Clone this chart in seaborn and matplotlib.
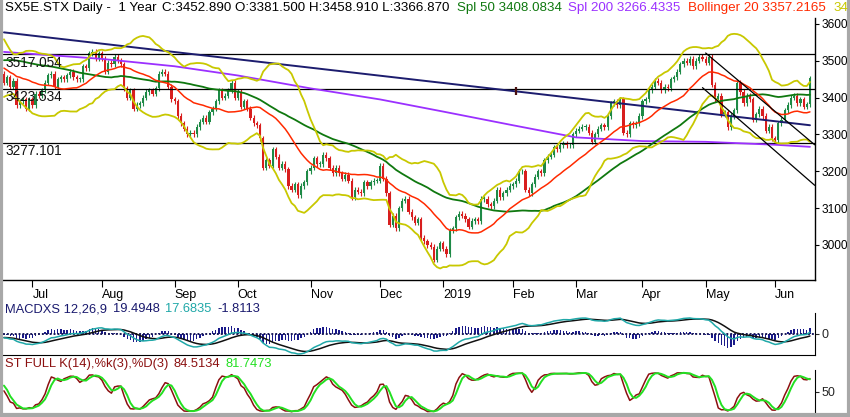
import numpy as np
import pandas as pd
import matplotlib
matplotlib.use("Agg")
import matplotlib.pyplot as plt
from matplotlib.lines import Line2D
import seaborn as sns

sns.set_style("white")
plt.rcParams['font.family'] = ['Liberation Sans', 'DejaVu Sans']

# closes before the visible window (needed to warm up the indicators)
pre_close = [3420,
             3430, 3445, 3425, 3440, 3450, 3445, 3470, 3480, 3485, 3485,
             3480, 3490, 3475, 3500, 3510, 3520, 3520, 3525, 3540, 3545,
             3550, 3545, 3555, 3565, 3565, 3555, 3560, 3590, 3575, 3595,
             3590, 3565, 3555, 3530, 3515, 3430, 3470, 3410, 3455, 3470,
             3460, 3475, 3455, 3450, 3475, 3480, 3480, 3520, 3500, 3465]

# daily closes, 19 Jun 2018 - 18 Jun 2019
close = [
    # Jun
    3440, 3455, 3430, 3445, 3380, 3390, 3395, 3370, 3395,
    # Jul
    3380, 3410, 3405, 3420, 3440, 3460, 3465, 3430, 3450, 3455,
    3450, 3460, 3470, 3455, 3450, 3450, 3485, 3480, 3520, 3525, 3505, 3520,
    # Aug
    3505, 3470, 3495, 3490, 3510, 3500, 3490, 3425, 3400, 3420, 3370, 3380,
    3385, 3400, 3415, 3420, 3410, 3425, 3465, 3470, 3465, 3430, 3395,
    # Sep
    3390, 3350, 3330, 3315, 3300, 3305, 3300, 3320, 3335, 3345,
    3335, 3360, 3370, 3390, 3420, 3400, 3405, 3420, 3440, 3400,
    # Oct
    3415, 3375, 3390, 3370, 3345, 3330, 3325, 3290, 3210, 3230, 3215, 3260,
    3240, 3210, 3220, 3205, 3160, 3150, 3165, 3135, 3160, 3170, 3200,
    # Nov
    3210, 3235, 3220, 3220, 3245, 3235, 3210, 3195, 3210, 3195, 3180,
    3190, 3175, 3130, 3150, 3145, 3140, 3170, 3160, 3170, 3175, 3175,
    # Dec
    3215, 3180, 3140, 3055, 3080, 3045, 3100, 3120, 3125, 3090,
    3075, 3060, 3070, 3020, 3010, 3000, 2995, 2960, 2990, 3005,
    # Jan
    2990, 2975, 3040, 3045, 3075, 3085, 3080, 3070, 3050, 3065, 3070,
    3065, 3125, 3125, 3110, 3105, 3120, 3150, 3130, 3140, 3150, 3160,
    # Feb
    3165, 3175, 3200, 3200, 3150, 3140, 3165, 3185, 3200, 3195,
    3230, 3240, 3245, 3265, 3260, 3270, 3275, 3270, 3270, 3300,
    # Mar
    3310, 3315, 3320, 3320, 3305, 3280, 3300, 3315, 3325, 3320, 3350,
    3385, 3390, 3380, 3395, 3305, 3300, 3330, 3325, 3330, 3350,
    # Apr
    3390, 3395, 3420, 3430, 3445, 3440, 3420, 3430, 3425, 3450,
    3455, 3470, 3490, 3500, 3495, 3505, 3485, 3500, 3510, 3505,
    # May
    3495, 3510, 3435, 3395, 3405, 3355, 3360, 3320, 3350, 3365, 3440,
    3415, 3385, 3405, 3395, 3340, 3355, 3370, 3350, 3310, 3320, 3290,
    # Jun
    3285, 3330, 3340, 3365, 3380, 3400, 3405, 3385, 3395, 3375, 3381.5, 3452.89,
]

holidays = ['2018-12-25', '2019-01-01', '2019-04-19', '2019-04-22', '2019-05-01']

ma200_dates = ['2018-06-19', '2018-08-01', '2018-09-03', '2018-10-01', '2018-11-01',
               '2018-12-03', '2019-01-02', '2019-02-01', '2019-03-01', '2019-04-01',
               '2019-05-02', '2019-06-03', '2019-06-18']
ma200_vals = [3524, 3505, 3485, 3460, 3425, 3395, 3362, 3325, 3292, 3282, 3280, 3272, 3266.4]

levels = [3517.054, 3423.534, 3277.101]
level_labels = ['3517.054', '3423.534', '3277.101']

navy_dates = ['2018-06-19', '2019-06-18']
navy_vals = [3577, 3325]
chan_up_dates = ['2019-05-02', '2019-06-18']
chan_up_vals = [3521, 3272]
chan_lo_dates = ['2019-04-30', '2019-06-18']
chan_lo_vals = [3427, 3162]

month_labels = ['Jul', 'Aug', 'Sep', 'Oct', 'Nov', 'Dec', '2019',
                'Feb', 'Mar', 'Apr', 'May', 'Jun']
price_ticks = [3000, 3100, 3200, 3300, 3400, 3500, 3600]

# header pieces: (text, colour, x in px where the reference starts it)
head_main = [('SX5E.STX Daily -  1 Year', 'black', 3),
             ('C:3452.890 O:3381.500 H:3458.910 L:3366.870', 'black', 161),
             ('Spl 50 3408.0834', '#0f780f', 457),
             ('Spl 200 3266.4335', '#9b30ff', 568),
             ('Bollinger 20 3357.2165', '#ff2a00', 688),
             ('34', '#c8c800', 834)]
head_macd = [('MACDXS 12,26,9', '#1a1a6e', 3),
             ('19.4948', '#1a1a6e', 113),
             ('17.6835', '#20a8a8', 163),
             ('-1.8113', '#1a1a6e', 217)]
head_stoch = [('ST FULL K(14),%k(3),%D(3)', '#8b1010', 3),
              ('84.5134', '#8b1010', 168),
              ('81.7473', '#22e022', 218)]

# ---- derived series ----
dates = pd.bdate_range('2018-06-19', '2019-06-18')
dates = dates[~dates.isin(pd.to_datetime(holidays))]
n = len(dates)
idx = np.arange(n)

def pos(d):
    return dates.get_loc(pd.Timestamp(d))

allc = pd.Series(pre_close + close, dtype=float)
allo = allc.shift(1).fillna(allc.iloc[0])
allh = np.maximum(allo, allc) + 7
alll = np.minimum(allo, allc) - 7

ma20 = allc.rolling(20).mean()
sd20 = allc.rolling(20).std(ddof=0)
bb_up = ma20 + 2 * sd20
bb_lo = ma20 - 2 * sd20
ma50 = allc.rolling(50).mean()
ema12 = allc.ewm(span=12, adjust=False).mean()
ema26 = allc.ewm(span=26, adjust=False).mean()
macd = ema12 - ema26
signal = macd.ewm(span=9, adjust=False).mean()
hist = macd - signal
ll = alll.rolling(14).min()
hh = allh.rolling(14).max()
fast_k = 100 * (allc - ll) / (hh - ll)
full_k = fast_k.rolling(3).mean()
full_d = full_k.rolling(3).mean()

m = len(pre_close)
def vis(s):
    return np.asarray(s)[m:]

c = vis(allc); o = vis(allo); h = vis(allh); l = vis(alll)

# ---- figure ----
W, H = 850, 417
fig = plt.figure(figsize=(W / 100, H / 100), dpi=100)
renderer = fig.canvas.get_renderer()

def px_axes(x0, y0, x1, y1):
    return fig.add_axes([x0 / W, 1 - y1 / H, (x1 - x0) / W, (y1 - y0) / H])

def header(pieces, y, size, gap=5):
    end = 0
    for s, col, x in pieces:
        x = max(x, end + gap)
        t = fig.text(x / W, 1 - y / H, s, color=col, fontsize=size, va='center', ha='left')
        end = t.get_window_extent(renderer).x1

xlim = (-0.3, n + 0.6)

ax = px_axes(3, 18, 815, 280)
ax.set_xlim(*xlim)
ax.set_ylim(2905, 3616)

up = c >= o
cols = np.where(up, '#1e8a46', '#d81e1e')
ax.vlines(idx, l, h, color=cols, lw=0.8)
ax.bar(idx, np.maximum(np.abs(c - o), 2), bottom=np.minimum(o, c), width=0.7,
       color=cols, linewidth=0)

for lv, lab in zip(levels, level_labels):
    ax.axhline(lv, color='black', lw=0.9)
    ax.text(0.003, lv - 3, lab, transform=ax.get_yaxis_transform(), fontsize=9.8,
            va='top', ha='left', color='#111111')

sns.lineplot(x=[pos(d) for d in navy_dates], y=navy_vals, ax=ax, color='#1c1c6e', lw=1.4)
mk = pos('2019-02-04')
ax.vlines(mk, 3407, 3429, color='#4a1010', lw=1.6)
sns.lineplot(x=[pos(d) for d in ma200_dates], y=ma200_vals, ax=ax, color='#9b30ff', lw=1.3)
sns.lineplot(x=idx, y=vis(ma50), ax=ax, color='#0f780f', lw=1.3)
sns.lineplot(x=idx, y=vis(bb_up), ax=ax, color='#c8c800', lw=1.3)
sns.lineplot(x=idx, y=vis(bb_lo), ax=ax, color='#c8c800', lw=1.3)
sns.lineplot(x=idx, y=vis(ma20), ax=ax, color='#ff2a00', lw=1.1)
sns.lineplot(x=[pos(chan_up_dates[0]), n + 0.5], y=chan_up_vals, ax=ax,
             color='black', lw=0.9)
sns.lineplot(x=[pos(chan_lo_dates[0]), n + 0.5], y=chan_lo_vals, ax=ax,
             color='black', lw=0.9)

month_first = pd.Series(idx, index=dates).groupby(dates.to_period('M')).first().values[1:]
ax.set_xticks(month_first)
ax.set_xticklabels(month_labels)
for t in ax.get_xticklabels():
    t.set_ha('left')
ax.yaxis.tick_right()
ax.set_yticks(price_ticks)
ax.tick_params(axis='y', length=3, labelsize=8.6, pad=2, colors='black')
ax.tick_params(axis='x', length=5, labelsize=9, pad=1.5, direction='out', colors='black')
ax.xaxis.set_ticks_position('bottom')
for sp in ['top', 'left']:
    ax.spines[sp].set_visible(False)
for sp in ['right', 'bottom']:
    ax.spines[sp].set_color('black')
    ax.spines[sp].set_linewidth(1)

# MACD panel
axm = px_axes(3, 300, 815, 355)
axm.set_xlim(*xlim)
mv = vis(macd); sv = vis(signal); hv = vis(hist)
R = -min(mv.min(), sv.min()) / 0.364
lo = -0.382 * R
axm.set_ylim(lo, lo + R)
axm.bar(idx, hv * 1.6, width=0.45, color='#1a1a8a', linewidth=0)
axm.axhline(0, color='#1a1a5a', lw=1.4, ls=(0, (1, 1)))
sns.lineplot(x=idx, y=sv, ax=axm, color='#111111', lw=1.1)
sns.lineplot(x=idx, y=mv, ax=axm, color='#20a8a8', lw=1.1)
axm.yaxis.tick_right()
axm.set_yticks([0])
axm.set_xticks([])
axm.tick_params(axis='y', length=3, labelsize=9, pad=2)
axm.spines['right'].set_bounds(lo, lo + R * 42 / 55)
for sp in ['top', 'left']:
    axm.spines[sp].set_visible(False)
axm.spines['bottom'].set_color('black')
axm.spines['right'].set_color('black')

# Stochastic panel
axs = px_axes(3, 357, 815, 413)
axs.set_xlim(*xlim)
axs.set_ylim(0, 133.3)
sns.lineplot(x=idx, y=vis(full_k), ax=axs, color='#8b1010', lw=1.1)
sns.lineplot(x=idx, y=vis(full_d), ax=axs, color='#22e022', lw=1.4)
axs.yaxis.tick_right()
axs.set_yticks([50])
axs.set_xticks([])
axs.tick_params(axis='y', length=3, labelsize=9, pad=2)
axs.spines['right'].set_bounds(0, 102)
for sp in ['top', 'left', 'bottom']:
    axs.spines[sp].set_visible(False)
axs.spines['right'].set_color('black')

for a in (ax, axm, axs):
    a.set_xlabel('')
    a.set_ylabel('')
    a.patch.set_alpha(0)

header(head_main, 8, 9.6)
header(head_macd, 309, 9.3)
header(head_stoch, 364, 9.3)

# grey window frame
for xs, ys in [([0.0015, 0.0015], [0, 1]), ([0, 1], [0.004, 0.004]), ([0.9985, 0.9985], [0, 1])]:
    fig.add_artist(Line2D(xs, ys, transform=fig.transFigure, color='#a8a8a8', lw=3))

fig.savefig('out.png', dpi=100)
